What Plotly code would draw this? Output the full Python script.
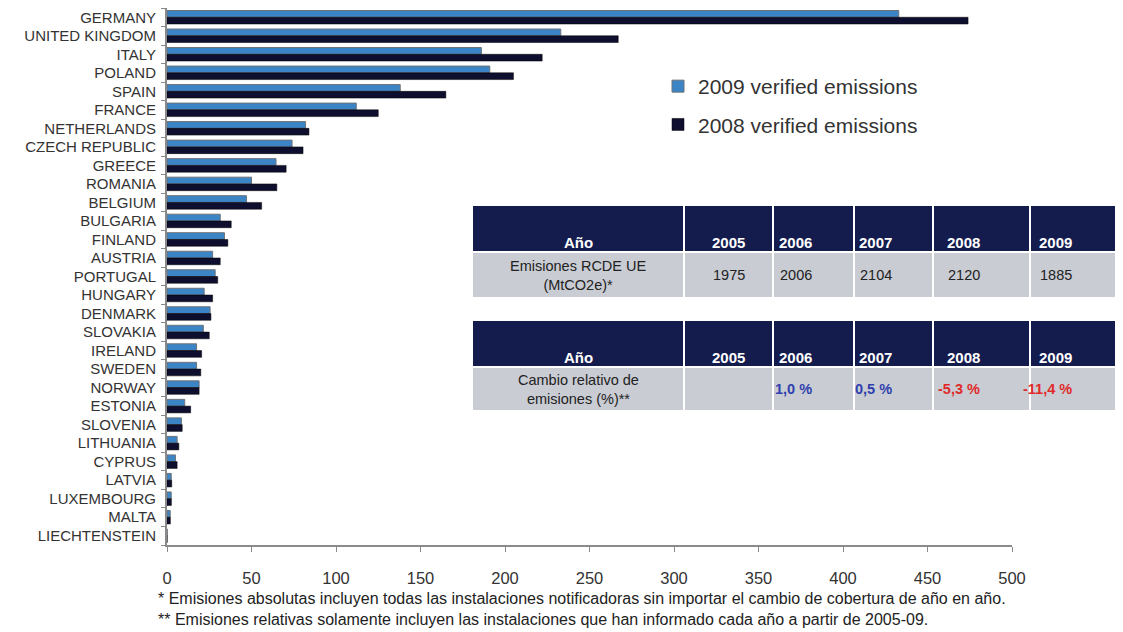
import plotly.graph_objects as go

# country emissions (MtCO2e)
countries = ["GERMANY", "UNITED KINGDOM", "ITALY", "POLAND", "SPAIN", "FRANCE",
             "NETHERLANDS", "CZECH REPUBLIC", "GREECE", "ROMANIA", "BELGIUM",
             "BULGARIA", "FINLAND", "AUSTRIA", "PORTUGAL", "HUNGARY", "DENMARK",
             "SLOVAKIA", "IRELAND", "SWEDEN", "NORWAY", "ESTONIA", "SLOVENIA",
             "LITHUANIA", "CYPRUS", "LATVIA", "LUXEMBOURG", "MALTA", "LIECHTENSTEIN"]
emis_2009 = [433, 233, 186, 191, 138, 112, 82, 74, 64.5, 50, 47, 31.5, 34, 27, 28.5,
             22, 25.5, 21.5, 17.5, 17.5, 19, 10.5, 8.5, 6, 5, 2.5, 2.5, 1.9, 0.1]
emis_2008 = [474, 267, 222, 205, 165, 125, 84, 80.5, 70.5, 65, 56, 38, 36, 31.5, 30,
             27, 26, 25, 20.5, 20, 19, 14, 9, 7, 6, 2.8, 2.6, 2.0, 0.1]

# table data
years = ["2005", "2006", "2007", "2008", "2009"]
abs_label = "Emisiones RCDE UE<br>(MtCO2e)*"
abs_values = ["1975", "2006", "2104", "2120", "1885"]
rel_label = "Cambio relativo de<br>emisiones (%)**"
rel_values = ["", "1,0 %", "0,5 %", "-5,3 %", "-11,4 %"]
rel_colors = ["#222222", "#2f3fae", "#2f3fae", "#e02a2a", "#e02a2a"]

notes = ["* Emisiones absolutas incluyen todas las instalaciones notificadoras sin importar el cambio de cobertura de año en año.",
         "** Emisiones relativas solamente incluyen las instalaciones que han informado cada año a partir de 2005-09."]

FONT = "Liberation Sans, Arial, sans-serif"
# page has an 8px body margin, so the figure is drawn 8px smaller
OFF = 8
W, H = 1123 - OFF, 632 - OFF
# plot area in page pixels
L, R, T, B = 167, 1012, 8, 545


def px(x):
    return (x - L) / (R - L)


def py(y):
    return (B - y) / (B - T)


fig = go.Figure()
fig.add_trace(go.Bar(y=countries, x=emis_2009, orientation="h", name="2009 verified emissions",
                     legendgroup="a", marker=dict(color="#3b84c6", line=dict(color="#6f7378", width=1))))
fig.add_trace(go.Bar(y=countries, x=emis_2008, orientation="h", name="2008 verified emissions",
                     legendgroup="b", marker=dict(color="#0e0f2e", line=dict(color="#000000", width=0.5))))

shapes = []
annotations = []
col_edges = [472, 684, 773, 854, 933, 1030, 1118]


def add_table(top, mid, bottom, label, values, colors):
    for i in range(len(col_edges) - 1):
        x0, x1 = px(col_edges[i]), px(col_edges[i + 1])
        shapes.append(dict(type="rect", xref="paper", yref="paper", x0=x0, x1=x1,
                           y0=py(mid), y1=py(top), fillcolor="#141c4e",
                           line=dict(color="white", width=2), layer="above"))
        shapes.append(dict(type="rect", xref="paper", yref="paper", x0=x0, x1=x1,
                           y0=py(bottom), y1=py(mid), fillcolor="#c9ccd3",
                           line=dict(color="white", width=2), layer="above"))
        head = "Año" if i == 0 else years[i - 1]
        annotations.append(dict(xref="paper", yref="paper", x=(x0 + x1) / 2, y=py(mid + 1),
                                text="<b>" + head + "</b>", showarrow=False, yanchor="bottom",
                                font=dict(family=FONT, size=15, color="white")))
        body = label if i == 0 else values[i - 1]
        col = "#222222" if i == 0 else colors[i - 1]
        bold = i > 0 and colors[i - 1] != "#222222"
        annotations.append(dict(xref="paper", yref="paper", x=(x0 + x1) / 2, y=py((mid + bottom) / 2),
                                text=("<b>" + body + "</b>") if bold else body, showarrow=False,
                                yanchor="middle", font=dict(family=FONT, size=14.5, color=col)))


add_table(205, 252, 298, abs_label, abs_values, ["#222222"] * 5)
add_table(320, 367, 411, rel_label, rel_values, rel_colors)

# both footnotes in one block
annotations.append(dict(xref="paper", yref="paper", x=px(156), y=py(609),
                        text="<br>".join(notes), showarrow=False, xanchor="left",
                        yanchor="middle", align="left",
                        font=dict(family=FONT, size=16, color="#222222")))

fig.update_layout(
    width=W, height=H,
    margin=dict(l=L - OFF, r=W - (R - OFF), t=T - OFF, b=H - (B - OFF)),
    paper_bgcolor="white", plot_bgcolor="white",
    barmode="group", bargap=0.27, bargroupgap=0,
    font=dict(family=FONT, color="#333333"),
    showlegend=True,
    legend=dict(x=px(658), y=py(66), xanchor="left", yanchor="top",
                traceorder="grouped", tracegroupgap=8,
                font=dict(family=FONT, size=21, color="#333333"),
                bgcolor="rgba(0,0,0,0)"),
    xaxis=dict(range=[0, 500], dtick=50, showgrid=False, zeroline=False,
               showline=True, linecolor="#8a8a8a", linewidth=2,
               ticks="outside", ticklen=5, tickcolor="#8a8a8a",
               ticklabelstandoff=12,
               tickfont=dict(family=FONT, size=16.5, color="#333333")),
    yaxis=dict(autorange="reversed", showgrid=False, showline=True,
               tickmode="array", tickvals=countries, ticktext=countries,
               linecolor="#8a8a8a", linewidth=2, ticks="outside", ticklen=4,
               tickcolor="#8a8a8a", tickson="boundaries", ticklabelstandoff=6,
               tickfont=dict(family=FONT, size=15, color="#333333")),
    shapes=shapes,
    annotations=annotations,
)

fig.write_html("out.html")
